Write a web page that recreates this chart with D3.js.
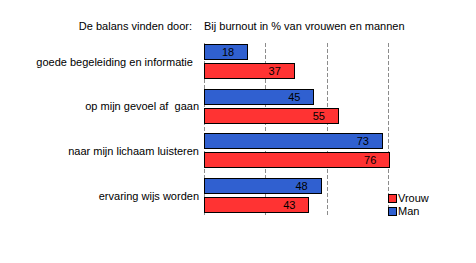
<!DOCTYPE html>
<html>
<head>
<meta charset="utf-8">
<script src="https://cdn.jsdelivr.net/npm/d3@7/dist/d3.min.js"></script>
<style>
  html, body { margin: 0; padding: 0; background: #fff; }
  svg { display: block; }
  text { font-family: "Liberation Sans", Arial, sans-serif; font-size: 11px; fill: #000; white-space: pre; }
</style>
</head>
<body>
<svg id="chart" width="476" height="263"></svg>
<script>
// Categories (top to bottom) and percentages per group
const categories = [
  "goede begeleiding en informatie  ",
  "op mijn gevoel af  gaan",
  "naar mijn lichaam luisteren",
  "ervaring wijs worden"
];
const seriesNames = ["Man", "Vrouw"];
const manValues = [18, 45, 73, 48];
const vrouwValues = [37, 55, 76, 43];
const gridTicks = [25, 50, 75];
const colors = { Man: "#3060d0", Vrouw: "#ff3333" };

const titleLeft = "De balans vinden door:";
const titleRight = "Bij burnout in % van vrouwen en mannen";

const svg = d3.select("#chart");

const x = d3.scaleLinear().domain([0, 100]).range([204, 449]);
const y = d3.scaleBand().domain(categories).range([44, 222.7]).paddingInner(0).paddingOuter(0);
const yInner = d3.scaleBand().domain(seriesNames).range([0, 35]).paddingInner(0.16);

const gridTop = 43, gridBottom = 216;

// Dashed value grid, including the baseline
svg.append("g").selectAll("line")
  .data([0].concat(gridTicks))
  .join("line")
  .attr("x1", d => Math.round(x(d)) + 0.5)
  .attr("x2", d => Math.round(x(d)) + 0.5)
  .attr("y1", gridTop)
  .attr("y2", gridBottom)
  .attr("stroke", "#8c8c8c")
  .attr("stroke-width", 1)
  .attr("stroke-dasharray", "4,2");

// Headings
svg.append("text").attr("x", 192).attr("y", 30).attr("text-anchor", "end").text(titleLeft);
svg.append("text").attr("x", 204).attr("y", 30).text(titleRight);

// Category labels
svg.append("g").selectAll("text")
  .data(categories)
  .join("text")
  .attr("x", 199)
  .attr("y", d => y(d) + 17.5 + 4)
  .attr("text-anchor", "end")
  .text(d => d);

const rows = [];
categories.forEach((c, i) => {
  rows.push({ cat: c, series: "Man", value: manValues[i] });
  rows.push({ cat: c, series: "Vrouw", value: vrouwValues[i] });
});

const bars = svg.append("g").selectAll("g").data(rows).join("g");

bars.append("rect")
  .attr("x", x(0) + 0.5)
  .attr("y", d => Math.round(y(d.cat) + yInner(d.series)) + 0.5)
  .attr("width", d => Math.round(x(d.value) - x(0)) - 1)
  .attr("height", Math.round(yInner.bandwidth()) - 1)
  .attr("fill", d => colors[d.series])
  .attr("stroke", "#000")
  .attr("stroke-width", 1);

bars.append("text")
  .attr("x", d => x(d.value) - 20)
  .attr("y", d => y(d.cat) + yInner(d.series) + yInner.bandwidth() / 2 + 4)
  .attr("text-anchor", "middle")
  .text(d => d.value);

// Legend
const legendItems = ["Vrouw", "Man"];
const legend = svg.append("g").selectAll("g")
  .data(legendItems)
  .join("g")
  .attr("transform", (d, i) => `translate(388,${194 + i * 13})`);
legend.append("rect")
  .attr("x", 0.5).attr("y", 0.5)
  .attr("width", 8).attr("height", 8)
  .attr("fill", d => colors[d])
  .attr("stroke", "#000");
legend.append("text")
  .attr("x", 10).attr("y", 8)
  .text(d => d);
</script>
</body>
</html>
